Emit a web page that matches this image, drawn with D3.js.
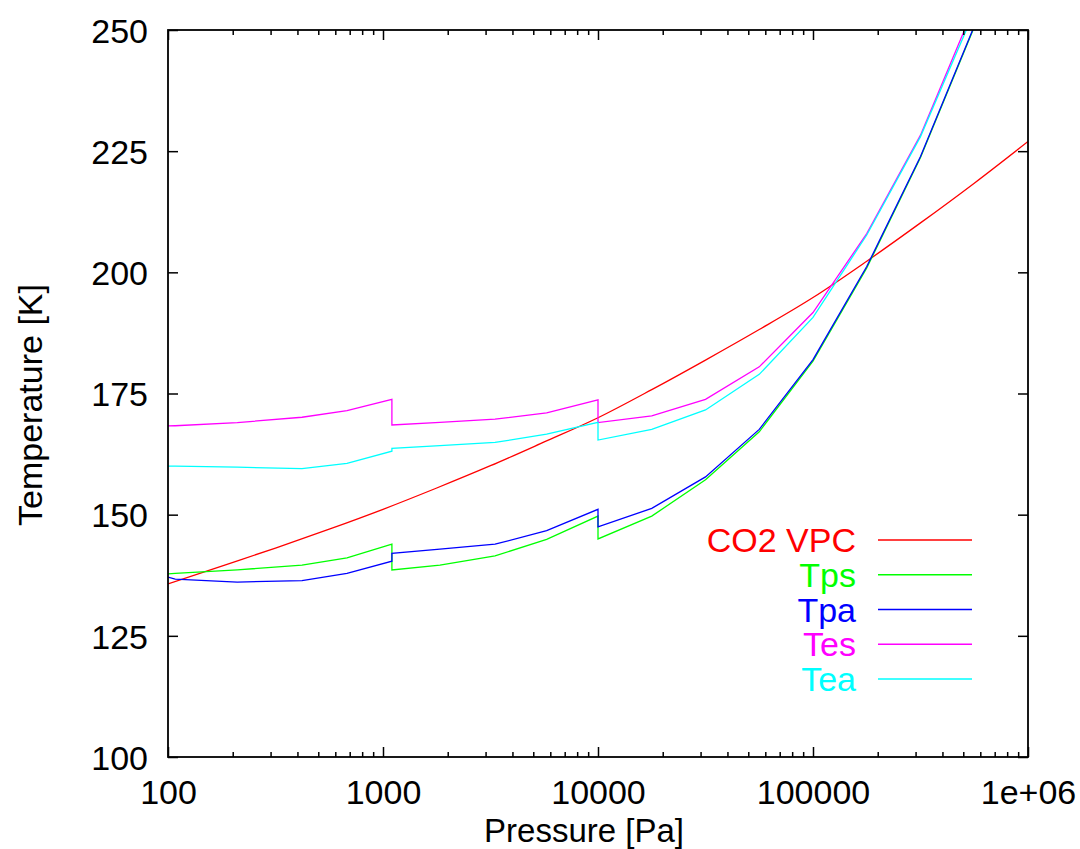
<!DOCTYPE html>
<html>
<head>
<meta charset="utf-8">
<script src="https://cdn.jsdelivr.net/npm/d3@7"></script>
<style>
  html, body { margin: 0; padding: 0; background: #fff; }
  svg text { font-family: "Liberation Sans", Arial, Helvetica, sans-serif; }
</style>
</head>
<body>
<svg id="chart" width="1080" height="849"></svg>
<script>
// ---------- data ----------
const vpcPressure = [100, 177.8, 316.2, 562.3, 1000, 1778, 3162, 5623, 10000, 17783, 31623, 56234, 100000, 177828, 316228, 562341, 1000000];
const vpcTemp     = [135.7, 139.4, 143.1, 147.0, 151.1, 155.5, 160.1, 165.0, 170.0, 175.8, 181.9, 188.2, 194.8, 202.3, 210.2, 218.4, 227.0];

const pressure = [100, 108, 210, 420, 680, 1100, 1100, 1840, 3320, 5770, 10000, 10000, 17783, 31623, 56234, 100000, 177828, 316228, 562341];
const Tps = [137.8, 137.9, 138.6, 139.6, 141.1, 143.9, 138.6, 139.6, 141.5, 144.9, 149.7, 145.0, 149.7, 157.2, 167.1, 181.7, 200.9, 223.7, 250.6];
const Tpa = [137.1, 136.7, 136.1, 136.4, 137.9, 140.4, 142.0, 142.9, 143.9, 146.7, 151.1, 147.5, 151.3, 157.8, 167.6, 182.0, 201.2, 223.9, 250.8];
const Tes = [168.3, 168.35, 169.0, 170.1, 171.45, 173.8, 168.5, 169.05, 169.7, 171.0, 173.7, 169.0, 170.4, 173.8, 180.5, 191.7, 208.0, 228.3, 254.8];
const Tea = [160.0, 160.0, 159.8, 159.5, 160.6, 163.1, 163.7, 164.25, 164.9, 166.6, 169.05, 165.4, 167.6, 171.6, 178.95, 190.7, 207.7, 228.0, 253.8];

const seriesNames  = ["CO2 VPC", "Tps", "Tpa", "Tes", "Tea"];
const seriesColors = ["#ff0000", "#00ff00", "#0000ff", "#ff00ff", "#00ffff"];

const xTickValues = [100, 1000, 10000, 100000, 1000000];
const xTickLabels = ["100", "1000", "10000", "100000", "1e+06"];
const yTickValues = [100, 125, 150, 175, 200, 225, 250];

const xLabel = "Pressure [Pa]";
const yLabel = "Temperature [K]";

// ---------- layout ----------
const svg = d3.select("#chart");
const L = 168, R = 1028, T = 30, B = 757;
const FS = 34;

const x = d3.scaleLog().domain([100, 1e6]).range([L, R]);
const y = d3.scaleLinear().domain([100, 250]).range([B, T]);

svg.append("defs").append("clipPath").attr("id", "clip")
  .append("rect").attr("x", L).attr("y", T).attr("width", R - L).attr("height", B - T);

const series = [
  { name: seriesNames[0], color: seriesColors[0], pts: vpcPressure.map((p, i) => [p, vpcTemp[i]]), curve: d3.curveMonotoneX },
  { name: seriesNames[1], color: seriesColors[1], pts: pressure.map((p, i) => [p, Tps[i]]), curve: d3.curveLinear },
  { name: seriesNames[2], color: seriesColors[2], pts: pressure.map((p, i) => [p, Tpa[i]]), curve: d3.curveLinear },
  { name: seriesNames[3], color: seriesColors[3], pts: pressure.map((p, i) => [p, Tes[i]]), curve: d3.curveLinear },
  { name: seriesNames[4], color: seriesColors[4], pts: pressure.map((p, i) => [p, Tea[i]]), curve: d3.curveLinear }
];

const plot = svg.append("g").attr("clip-path", "url(#clip)");
series.forEach(s => {
  const line = d3.line().x(d => x(d[0])).y(d => y(d[1])).curve(s.curve);
  plot.append("path").attr("d", line(s.pts))
    .attr("fill", "none").attr("stroke", s.color).attr("stroke-width", 1.3)
    .attr("stroke-linejoin", "miter");
});

// ---------- axes (gnuplot style: inward ticks, mirrored) ----------
const minorX = [];
for (let d = 100; d < 1e6; d *= 10) for (let k = 2; k <= 9; k++) minorX.push(d * k);

const axisBottom = d3.axisBottom(x).tickValues(xTickValues).tickSize(-10).tickPadding(20)
  .tickFormat((d, i) => xTickLabels[i]);
const gB = svg.append("g").attr("transform", `translate(0,${B})`).call(axisBottom);
gB.select(".domain").remove();
gB.selectAll("text").attr("font-size", FS).attr("fill", "#000").attr("dy", "0").attr("y", 47);

const axisBottomMinor = d3.axisBottom(x).tickValues(minorX).tickSize(-5).tickFormat("");
const gBm = svg.append("g").attr("transform", `translate(0,${B})`).call(axisBottomMinor);
gBm.select(".domain").remove();

const axisTop = d3.axisTop(x).tickValues(xTickValues).tickSize(-10).tickFormat("");
const gT = svg.append("g").attr("transform", `translate(0,${T})`).call(axisTop);
gT.select(".domain").remove();
const axisTopMinor = d3.axisTop(x).tickValues(minorX).tickSize(-5).tickFormat("");
const gTm = svg.append("g").attr("transform", `translate(0,${T})`).call(axisTopMinor);
gTm.select(".domain").remove();

const axisLeft = d3.axisLeft(y).tickValues(yTickValues).tickSize(-10).tickPadding(20).tickFormat(d3.format("d"));
const gL = svg.append("g").attr("transform", `translate(${L},0)`).call(axisLeft);
gL.select(".domain").remove();
gL.selectAll("text").attr("font-size", FS).attr("fill", "#000").attr("x", -20).attr("dy", "0.36em");

const axisRight = d3.axisRight(y).tickValues(yTickValues).tickSize(-10).tickFormat("");
const gR = svg.append("g").attr("transform", `translate(${R},0)`).call(axisRight);
gR.select(".domain").remove();

svg.selectAll(".tick line").attr("stroke", "#000").attr("stroke-width", 1.5);

svg.append("rect").attr("x", L).attr("y", T).attr("width", R - L).attr("height", B - T)
  .attr("fill", "none").attr("stroke", "#000").attr("stroke-width", 1.8);

// ---------- axis titles ----------
svg.append("text").attr("x", 584).attr("y", 842).attr("text-anchor", "middle")
  .attr("font-size", 33).attr("fill", "#000").text(xLabel);
svg.append("text").attr("transform", "translate(42,405) rotate(-90)").attr("text-anchor", "middle")
  .attr("font-size", FS).attr("fill", "#000").text(yLabel);

// ---------- legend ----------
const legendY0 = 540, legendDY = 34.75;
series.forEach((s, i) => {
  const ly = legendY0 + i * legendDY;
  svg.append("text").attr("x", 856).attr("y", ly).attr("dy", "0.36em").attr("text-anchor", "end")
    .attr("font-size", FS).attr("fill", s.color).text(s.name);
  svg.append("line").attr("x1", 878).attr("x2", 972).attr("y1", ly).attr("y2", ly)
    .attr("stroke", s.color).attr("stroke-width", 1.3);
});
</script>
</body>
</html>
